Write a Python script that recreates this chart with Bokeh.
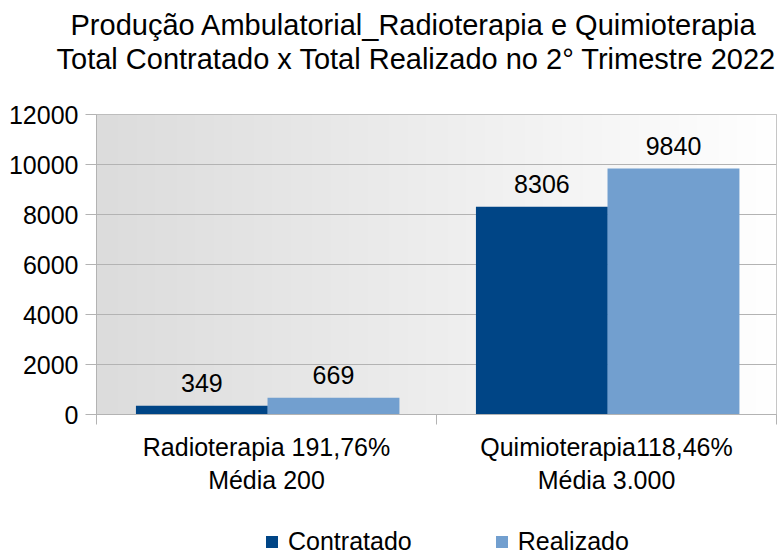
import numpy as np
from bokeh.plotting import figure
from bokeh.layouts import column
from bokeh.models import (ColumnDataSource, Range1d, FixedTicker, Legend, LegendItem, Title)
from bokeh.transform import dodge
from bokeh.core.properties import value
from bokeh.embed import file_html
from bokeh.resources import INLINE

# ---- data ----
categories = ["Radioterapia 191,76%\nMédia 200", "Quimioterapia118,46%\nMédia 3.000"]
series = ["Contratado", "Realizado"]
contratado = [349, 8306]
realizado = [669, 9840]
y_ticks = [0, 2000, 4000, 6000, 8000, 10000, 12000]
title_line1 = "Produção Ambulatorial_Radioterapia e Quimioterapia"
title_line2 = "Total Contratado x Total Realizado no 2° Trimestre 2022"

FONT = "Liberation Sans"
FS = "25px"
C1 = "#004586"
C2 = "#729fcf"

xpos = [i + 0.5 for i in range(len(categories))]
src = ColumnDataSource(dict(
    x=xpos, contratado=contratado, realizado=realizado,
    lc=[str(v) for v in contratado], lr=[str(v) for v in realizado],
))

p = figure(width=783, height=520, output_backend="svg", toolbar_location=None,
           x_range=Range1d(0, len(categories)), y_range=Range1d(0, 12000),
           min_border_left=96, min_border_right=7, min_border_top=114,
           min_border_bottom=106)
p.title = None

# gradient background
n = 256
grad = np.linspace(220, 255, n).astype(np.uint32)
img = np.empty((1, n), dtype=np.uint32)
view = img.view(dtype=np.uint8).reshape((1, n, 4))
view[0, :, 0] = grad
view[0, :, 1] = grad
view[0, :, 2] = grad
view[0, :, 3] = 255
p.image_rgba(image=[img], x=0, y=0, dw=len(categories), dh=12000, level="image")

OFF1, OFF2, BW = -0.19, 0.197, 0.388
p.vbar(x=dodge("x", OFF1, range=p.x_range), top="contratado", width=BW,
       source=src, fill_color=C1, line_color=None)
p.vbar(x=dodge("x", OFF2, range=p.x_range), top="realizado", width=BW,
       source=src, fill_color=C2, line_color=None)

p.text(x=dodge("x", OFF1, range=p.x_range), y="contratado", text="lc", source=src,
       text_align="center", text_baseline="bottom", y_offset=-14,
       text_font=value(FONT), text_font_size=FS, text_color="black")
p.text(x=dodge("x", OFF2, range=p.x_range), y="realizado", text="lr", source=src,
       text_align="center", text_baseline="bottom", y_offset=-14,
       text_font=value(FONT), text_font_size=FS, text_color="black")

# axes
p.yaxis.ticker = FixedTicker(ticks=y_ticks)
p.yaxis.axis_line_color = "#b3b3b3"
p.yaxis.major_tick_line_color = "#b3b3b3"
p.yaxis.major_tick_out = 11
p.yaxis.major_tick_in = 0
p.yaxis.minor_tick_line_color = None
p.yaxis.major_label_text_font = FONT
p.yaxis.major_label_text_font_size = FS
p.yaxis.major_label_text_color = "black"
p.yaxis.major_label_standoff = 7

p.xaxis.ticker = FixedTicker(ticks=xpos, minor_ticks=list(range(len(categories) + 1)))
p.xaxis.major_label_overrides = {x: c for x, c in zip(xpos, categories)}
p.xaxis.axis_line_color = "#b3b3b3"
p.xaxis.major_tick_line_color = None
p.xaxis.major_tick_out = 0
p.xaxis.minor_tick_line_color = "#b3b3b3"
p.xaxis.minor_tick_out = 10
p.xaxis.minor_tick_in = 0
p.xaxis.major_label_text_font = FONT
p.xaxis.major_label_text_font_size = FS
p.xaxis.major_label_text_color = "black"
p.xaxis.major_label_standoff = 8

p.xgrid.grid_line_color = None
p.ygrid.grid_line_color = "#b3b3b3"
p.ygrid.ticker = FixedTicker(ticks=y_ticks)
p.outline_line_color = "#b3b3b3"
p.background_fill_color = "white"
p.border_fill_color = "white"

spacer = Title(text=" ", text_font_size="1px", standoff=37)
t2 = Title(text=title_line2, align="left", offset=-40, text_font=FONT,
           text_font_size="29px", text_font_style="normal", standoff=0,
           text_color="black")
t1 = Title(text=title_line1, align="left", offset=-26, text_font=FONT,
           text_font_size="29px", text_font_style="normal", standoff=0,
           text_color="black")
p.add_layout(spacer, "above")
p.add_layout(t2, "above")
p.add_layout(t1, "above")

# legend strip (separate small figure below the chart); its proxy glyphs are
# degenerate (zero width and height) so only the legend entries show
lg = figure(width=783, height=36, output_backend="svg", toolbar_location=None,
            x_range=Range1d(0, len(categories)), y_range=Range1d(0, 1),
            min_border=0, x_axis_location=None, y_axis_location=None)
lg.title = None
lg.grid.visible = False
lg.outline_line_color = None
lg.border_fill_color = "white"
lg.background_fill_color = "white"
e1 = lg.vbar(x="x", top="contratado", bottom="contratado", width=0, source=src,
             fill_color=C1, line_color=None)
e2 = lg.vbar(x="x", top="realizado", bottom="realizado", width=0, source=src,
             fill_color=C2, line_color=None)
legend = Legend(items=[LegendItem(label=series[0], renderers=[e1]),
                       LegendItem(label=series[1], renderers=[e2])],
                orientation="horizontal", location=(168, 0),
                glyph_width=15, glyph_height=15, label_standoff=9, spacing=82,
                label_text_font=FONT, label_text_font_size=FS,
                label_text_color="black",
                border_line_color=None, background_fill_alpha=0,
                padding=0, margin=0)
lg.add_layout(legend, "center")

open("out.html", "w").write(file_html(column(p, lg, spacing=0), INLINE))
